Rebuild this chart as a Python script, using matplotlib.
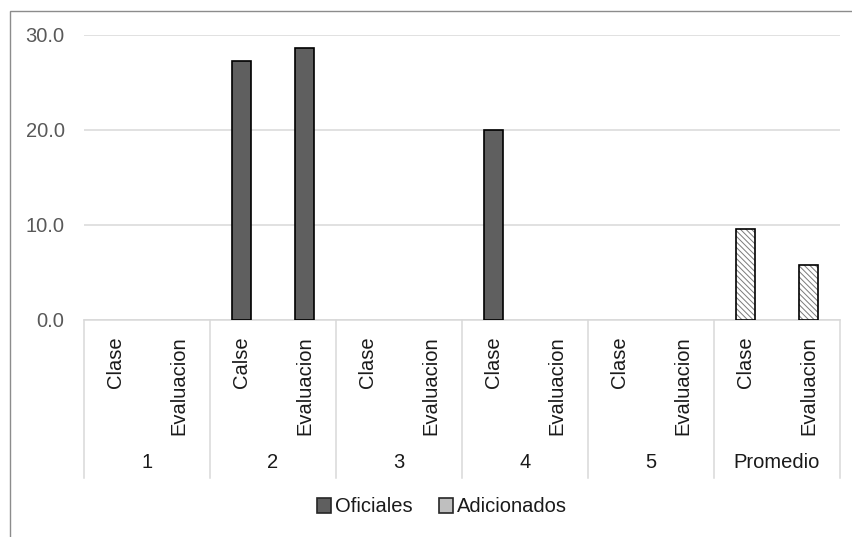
import numpy as np
import matplotlib
matplotlib.use("Agg")
import matplotlib.pyplot as plt
from matplotlib.patches import Patch, Rectangle
from matplotlib.lines import Line2D
from matplotlib.transforms import blended_transform_factory

plt.rcParams['font.family'] = ['Liberation Sans', 'DejaVu Sans']
plt.rcParams['hatch.linewidth'] = 0.7

groups = ['1', '2', '3', '4', '5', 'Promedio']
subcats = ['Clase', 'Evaluacion', 'Calse', 'Evaluacion', 'Clase', 'Evaluacion',
           'Clase', 'Evaluacion', 'Clase', 'Evaluacion', 'Clase', 'Evaluacion']
oficiales = [0, 0, 27.3, 28.6, 0, 0, 20.0, 0, 0, 0, np.nan, np.nan]
adicionados = [np.nan] * 10 + [9.5, 5.7]
yticks = [0, 10, 20, 30]

W, H = 853, 537
fig = plt.figure(figsize=(W / 100, H / 100), dpi=100)
ax_l, ax_r, ax_t, ax_b = 84, 840, 35, 319.5
ax = fig.add_axes([ax_l / W, 1 - ax_b / H, (ax_r - ax_l) / W, (ax_b - ax_t) / H])

x = np.arange(len(subcats))
bw = 0.31
# zero-height bars leave no visible mark
of = np.array(oficiales, dtype=float)
of_draw = np.where(of == 0, np.nan, of)
ad = np.array(adicionados, dtype=float)
ad_draw = np.where(ad == 0, np.nan, ad)

ax.bar(x, of_draw, width=bw, color='#5f5f5f', edgecolor='black', linewidth=1.2, zorder=3)
ax.bar(x, ad_draw, width=bw, color='white', edgecolor='#7a7a7a', hatch='\\\\\\\\\\\\',
       linewidth=0, zorder=3)
ax.bar(x, ad_draw, width=bw, fill=False, edgecolor='black', linewidth=1.2, zorder=4)

ax.set_xlim(-0.5, len(subcats) - 0.5)
ax.set_ylim(0, 30)
ax.set_yticks(yticks)
ax.set_yticklabels([f'{v:.1f}' for v in yticks], color='#595959', fontsize=14.5)
ax.tick_params(axis='y', length=0, pad=14)
ax.grid(axis='y', color='#d9d9d9', linewidth=1.1, zorder=0)
ax.set_axisbelow(True)
for s in ['left', 'right', 'top']:
    ax.spines[s].set_visible(False)
ax.spines['bottom'].set_color('#d9d9d9')
ax.spines['bottom'].set_linewidth(1.1)

ax.set_xticks(x)
ax.set_xticklabels(subcats, rotation=90, va='top', ha='center', fontsize=14.5, color='#1a1a1a')
ax.tick_params(axis='x', length=0, pad=12)

axh = ax_b - ax_t
trans = blended_transform_factory(ax.transData, ax.transAxes)
for b in np.arange(-0.5, len(subcats), 2):
    ax.add_line(Line2D([b, b], [0, -158 / axh], transform=trans, color='#d9d9d9',
                       linewidth=1.1, clip_on=False))
for i, g in enumerate(groups):
    ax.text(2 * i + 0.5, -143.5 / axh, g, transform=trans, ha='center', va='center',
            fontsize=14.5, color='#1a1a1a')

handles = [Patch(facecolor='#5f5f5f', edgecolor='#262626', linewidth=1.2),
           Patch(facecolor='#bfbfbf', edgecolor='#262626', linewidth=1.2)]
fig.legend(handles, ['Oficiales', 'Adicionados'], loc='center',
           bbox_to_anchor=(442 / W, 1 - 507 / H), ncol=2, frameon=False,
           fontsize=14.5, handlelength=0.7, handleheight=0.7, handletextpad=0.2,
           columnspacing=1.3, labelcolor='#1a1a1a')

fig.add_artist(Rectangle((10.5 / W, -0.2), 2, 1.2 - 10.5 / H, transform=fig.transFigure,
                         fill=False, edgecolor='#8c8c8c', linewidth=1.0))

fig.savefig('out.png', dpi=100)
